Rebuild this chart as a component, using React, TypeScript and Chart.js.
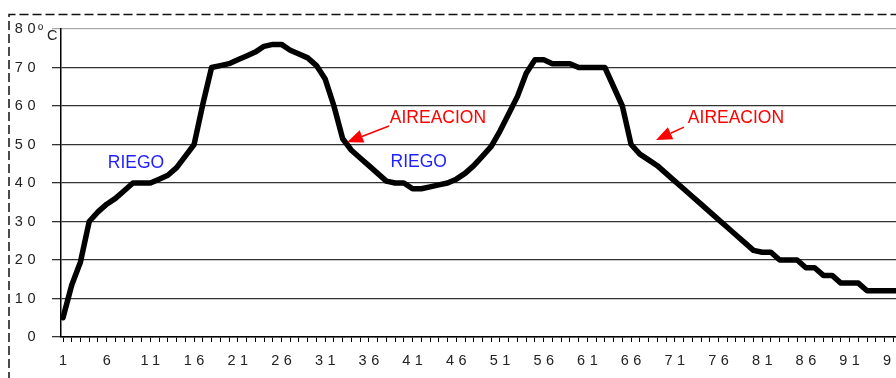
import React, { useEffect, useRef } from 'react';
import { Chart, registerables } from 'chart.js';

Chart.register(...registerables);

// Temperature (ºC) for each day, day 1 first
const temps: number[] = [
  5, 13.5, 19.5, 30, 32.5, 34.5, 36, 38, 40, 40,
  40, 41, 42, 44, 47, 50, 60.5, 70, 70.5, 71,
  72, 73, 74, 75.5, 76, 76, 74.5, 73.5, 72.5, 70.5,
  67, 60, 51.5, 48.5, 46.5, 44.5, 42.5, 40.5, 40, 40,
  38.5, 38.5, 39, 39.5, 40, 41, 42.5, 44.5, 47, 49.5,
  53.5, 58, 62.5, 68.5, 72, 72, 71, 71, 71, 70,
  70, 70, 70, 65, 60, 50, 47.5, 46, 44.5, 42.5,
  40.5, 38.5, 36.5, 34.5, 32.5, 30.5, 28.5, 26.5, 24.5, 22.5,
  22, 22, 20, 20, 20, 18, 18, 16, 16, 14,
  14, 14, 12, 12, 12, 12, 12,
];

const yTickValues: number[] = [0, 10, 20, 30, 40, 50, 60, 70, 80];
const xTickDays: number[] = [
  1, 2, 3, 4, 5, 6, 7, 8, 9, 10, 11, 12, 13, 14, 15, 16, 17, 18, 19, 20,
  21, 22, 23, 24, 25, 26, 27, 28, 29, 30, 31, 32, 33, 34, 35, 36, 37, 38, 39, 40,
  41, 42, 43, 44, 45, 46, 47, 48, 49, 50, 51, 52, 53, 54, 55, 56, 57, 58, 59, 60,
  61, 62, 63, 64, 65, 66, 67, 68, 69, 70, 71, 72, 73, 74, 75, 76, 77, 78, 79, 80,
  81, 82, 83, 84, 85, 86, 87, 88, 89, 90, 91, 92, 93, 94, 95, 96, 97, 98, 99, 100,
];
const xLabelDays: number[] = [1, 6, 11, 16, 21, 26, 31, 36, 41, 46, 51, 56, 61, 66, 71, 76, 81, 86, 91, 96];

const unitLabel = 'ºC';
const riegoText = 'RIEGO';
const aireacionText = 'AIREACION';

const FONT = '"Liberation Sans", Arial, Helvetica, sans-serif';

function drawArrow(ctx: CanvasRenderingContext2D, x0: number, y0: number, x1: number, y1: number) {
  const ang = Math.atan2(y1 - y0, x1 - x0);
  const headLen = 16;
  const half = 6.5;
  const bx = x1 - headLen * Math.cos(ang);
  const by = y1 - headLen * Math.sin(ang);
  ctx.beginPath();
  ctx.moveTo(x0, y0);
  ctx.lineTo(bx, by);
  ctx.stroke();
  ctx.beginPath();
  ctx.moveTo(x1, y1);
  ctx.lineTo(bx + half * Math.sin(ang), by - half * Math.cos(ang));
  ctx.lineTo(bx - half * Math.sin(ang), by + half * Math.cos(ang));
  ctx.closePath();
  ctx.fill();
}

const decorPlugin = {
  id: 'decor',
  beforeDraw(chart: any) {
    const ctx = chart.ctx as CanvasRenderingContext2D;
    ctx.save();
    ctx.strokeStyle = '#111';
    ctx.lineWidth = 1.5;
    ctx.setLineDash([9, 4]);
    ctx.beginPath();
    ctx.moveTo(9, 420);
    ctx.lineTo(9, 14.5);
    ctx.lineTo(1000, 14.5);
    ctx.stroke();
    ctx.restore();
    (ctx as any).letterSpacing = '4.5px';
  },
  afterDraw(chart: any) {
    const ctx = chart.ctx as CanvasRenderingContext2D;
    (ctx as any).letterSpacing = '0px';
    const xs = chart.scales.x;
    const ys = chart.scales.y;
    const area = chart.chartArea;
    const px = (v: number) => xs.getPixelForValue(v);
    const py = (v: number) => ys.getPixelForValue(v);
    ctx.save();
    // unit label next to the top tick
    ctx.fillStyle = '#222';
    ctx.textAlign = 'left';
    ctx.textBaseline = 'alphabetic';
    ctx.font = `14px ${FONT}`;
    ctx.fillText(unitLabel.charAt(0), area.left - 23, area.top + 6);
    ctx.font = `14.5px ${FONT}`;
    ctx.fillText(unitLabel.charAt(1), area.left - 14, area.top + 11);

    // RIEGO labels
    ctx.textAlign = 'center';
    ctx.textBaseline = 'middle';
    ctx.font = `17.5px ${FONT}`;
    ctx.fillStyle = '#1f1fff';
    ctx.fillText(riegoText, px(9.35), py(45.2));
    ctx.fillText(riegoText, px(41.7), py(45.3));

    // AIREACION labels and arrows
    ctx.fillStyle = '#ff0000';
    ctx.strokeStyle = '#ff0000';
    ctx.lineWidth = 1.5;
    ctx.fillText(aireacionText, px(43.9), py(56.8));
    ctx.fillText(aireacionText, px(78.0), py(56.8));
    drawArrow(ctx, px(38.3), py(54.8), px(33.5), py(50.6));
    drawArrow(ctx, px(72.05), py(54.5), px(68.85), py(51.2));
    ctx.restore();
  },
};

export default function App() {
  const canvasRef = useRef<HTMLCanvasElement | null>(null);

  useEffect(() => {
    const canvas = canvasRef.current;
    if (!canvas) return;
    const points = temps.map((t, i) => ({ x: xTickDays[i], y: t }));
    const chart = new Chart(canvas, {
      type: 'line',
      data: {
        datasets: [
          {
            data: points,
            borderColor: '#000',
            borderWidth: 5.5,
            pointRadius: 0,
            tension: 0,
            fill: false,
            borderJoinStyle: 'round',
            borderCapStyle: 'round',
          },
        ],
      },
      options: {
        responsive: false,
        maintainAspectRatio: false,
        animation: false,
        devicePixelRatio: 1,
        events: [],
        layout: { padding: { left: 0, top: 29, right: 10, bottom: 0 } },
        plugins: {
          legend: { display: false },
          tooltip: { enabled: false },
          title: { display: false },
        },
        scales: {
          x: {
            type: 'linear',
            min: 0.771,
            max: 100.2,
            afterBuildTicks: (scale: any) => {
              scale.ticks = xTickDays.map((v) => ({ value: v }));
            },
            afterFit: (scale: any) => {
              scale.height = 41;
            },
            grid: {
              display: true,
              drawOnChartArea: false,
              drawTicks: true,
              tickLength: 5,
              color: '#000',
              lineWidth: 1,
            },
            border: { display: true, color: '#000', width: 1.5 },
            ticks: {
              autoSkip: false,
              maxRotation: 0,
              minRotation: 0,
              padding: 10,
              labelOffset: 2.25,
              color: '#222',
              font: { family: FONT, size: 14.5 },
              callback: (v: any) => (xLabelDays.includes(Number(v)) ? String(v) : ''),
            },
          },
          y: {
            type: 'linear',
            min: 0,
            max: 80,
            afterBuildTicks: (scale: any) => {
              scale.ticks = yTickValues.map((v) => ({ value: v }));
            },
            afterFit: (scale: any) => {
              scale.width = 61;
            },
            grid: {
              display: true,
              drawTicks: true,
              tickLength: 9,
              color: (c: any) => (c.tick && c.tick.value === 80 ? '#aaa' : '#333'),
              lineWidth: 1.3,
            },
            border: { display: true, color: '#000', width: 1.5 },
            ticks: {
              padding: 12,
              color: '#222',
              font: { family: FONT, size: 14.5 },
              callback: (v: any) => String(v),
            },
          },
        },
      },
      plugins: [decorPlugin],
    } as any);
    return () => chart.destroy();
  }, []);

  return (
    <div
      style={{
        position: 'fixed',
        left: 0,
        top: 0,
        width: 896,
        height: 378,
        overflow: 'hidden',
        background: '#fff',
      }}
    >
      <canvas
        ref={canvasRef}
        width={940}
        height={378}
        style={{ display: 'block', width: 940, height: 378 }}
      />
    </div>
  );
}
